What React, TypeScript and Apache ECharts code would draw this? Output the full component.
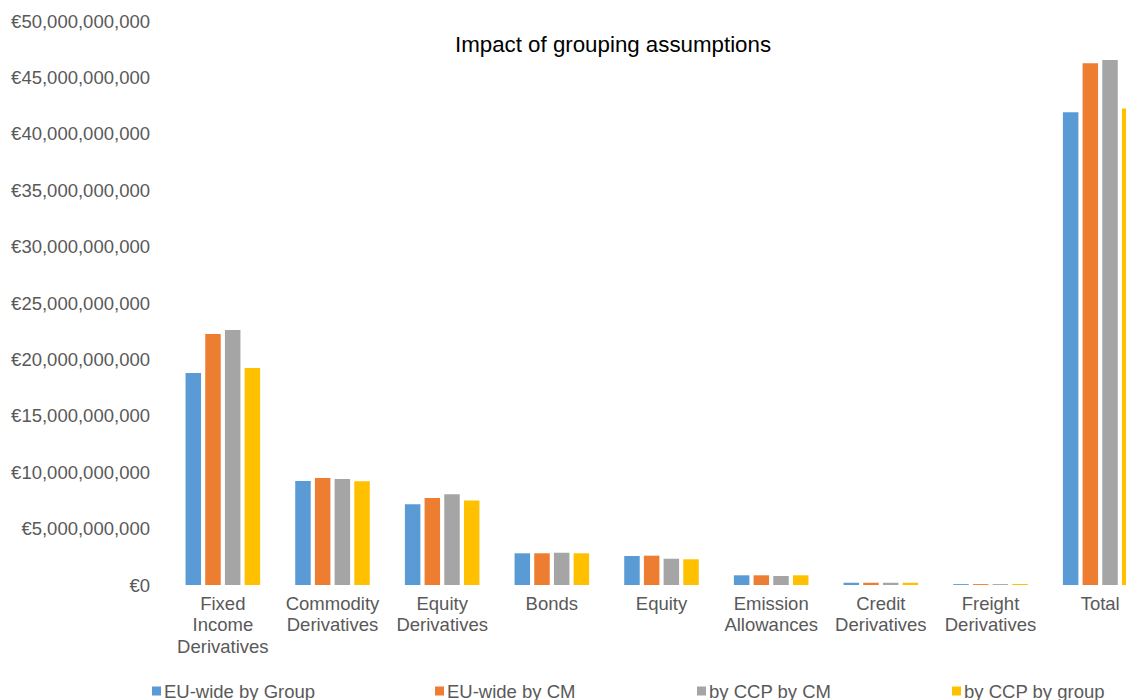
import React, { useEffect, useRef } from "react";
import * as echarts from "echarts";

const categories = [
  "Fixed\nIncome\nDerivatives",
  "Commodity\nDerivatives",
  "Equity\nDerivatives",
  "Bonds",
  "Equity",
  "Emission\nAllowances",
  "Credit\nDerivatives",
  "Freight\nDerivatives",
  "Total",
];

const euWideByGroup = [18.8e9, 9.22e9, 7.15e9, 2.81e9, 2.57e9, 0.86e9, 0.2e9, 0.08e9, 41.9e9];
const euWideByCM = [22.25e9, 9.49e9, 7.71e9, 2.81e9, 2.6e9, 0.86e9, 0.2e9, 0.08e9, 46.25e9];
const byCcpByCM = [22.6e9, 9.4e9, 8.04e9, 2.86e9, 2.33e9, 0.8e9, 0.2e9, 0.08e9, 46.55e9];
const byCcpByGroup = [19.24e9, 9.19e9, 7.5e9, 2.81e9, 2.28e9, 0.86e9, 0.2e9, 0.08e9, 42.25e9];

const seriesNames = ["EU-wide by Group", "EU-wide by CM", "by CCP by CM", "by CCP by group"];
const seriesColors = ["#5B9BD5", "#ED7D31", "#A5A5A5", "#FFC000"];
const seriesData = [euWideByGroup, euWideByCM, byCcpByCM, byCcpByGroup];
const legendLefts = [152, 435, 697, 952];

const FONT = "'Liberation Sans', Arial, sans-serif";

export default function App() {
  const ref = useRef<HTMLDivElement>(null);
  useEffect(() => {
    if (!ref.current) return;
    const chart = echarts.init(ref.current, undefined, { renderer: "svg" });
    chart.setOption({
      animation: false,
      textStyle: { fontFamily: FONT },
      title: {
        text: "Impact of grouping assumptions",
        left: 455,
        top: 33,
        padding: 0,
        textStyle: { fontFamily: FONT, fontSize: 22.3, fontWeight: "normal", color: "#000000" },
      },
      legend: seriesNames.map((n, i) => ({
        data: [n],
        left: legendLefts[i],
        top: 681,
        padding: 0,
        itemWidth: 9,
        itemHeight: 9,
        icon: "rect",
        textStyle: { fontFamily: FONT, fontSize: 18.5, color: "#595959", padding: [0, 0, 0, -2], lineHeight: 20 },
      })),
      grid: { left: 168, top: 21, width: 987, height: 564 },
      xAxis: {
        type: "category",
        data: categories,
        axisLine: { show: false },
        axisTick: { show: false },
        axisLabel: {
          interval: 0,
          margin: 8,
          fontFamily: FONT,
          fontSize: 18.5,
          lineHeight: 21.3,
          color: "#595959",
        },
      },
      yAxis: {
        type: "value",
        min: 0,
        max: 50e9,
        interval: 5e9,
        axisLine: { show: false },
        axisTick: { show: false },
        splitLine: { show: false },
        axisLabel: {
          margin: 18,
          fontFamily: FONT,
          fontSize: 18.5,
          color: "#595959",
          formatter: (v: number) => "€" + v.toLocaleString("en-US"),
        },
      },
      series: seriesNames.map((n, i) => ({
        name: n,
        type: "bar",
        data: seriesData[i],
        barWidth: 15.5,
        barGap: "27%",
        itemStyle: { color: seriesColors[i] },
      })),
    });
    return () => chart.dispose();
  }, []);
  return (
    <div style={{ position: "absolute", left: 0, top: 0, width: 1126, height: 700, overflow: "hidden", background: "#fff" }}>
      <div ref={ref} style={{ width: 1200, height: 700 }} />
    </div>
  );
}
